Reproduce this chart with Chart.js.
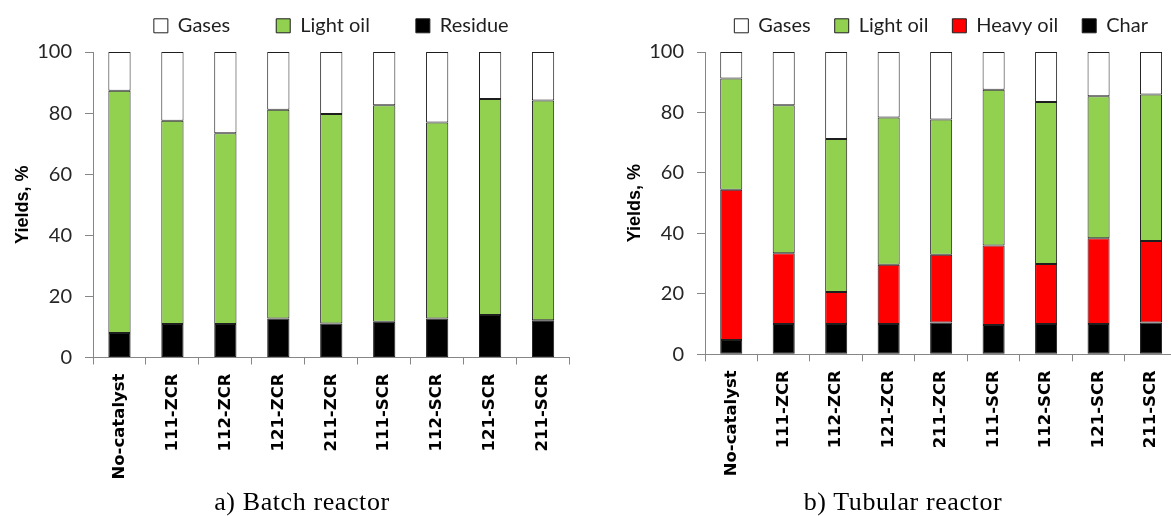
<!DOCTYPE html>
<html>
<head>
<meta charset="utf-8">
<title>Product yields</title>
<script src="https://cdn.jsdelivr.net/npm/chart.js@4.4.1/dist/chart.umd.min.js"></script>
<style>
  html, body { margin: 0; padding: 0; width: 1171px; height: 516px; overflow: hidden; background: #fff; }
  canvas { position: absolute; top: 0; }
  #batch { left: 0; }
  #tubular { left: 612px; }
  .caption {
    position: absolute; top: 487px; line-height: 30px;
    font-family: "Liberation Serif", "Times New Roman", serif; font-size: 26px;
    letter-spacing: 0.6px; color: #000; white-space: nowrap; transform: translateX(-50%);
  }
</style>
</head>
<body>
<canvas id="batch" width="572" height="516"></canvas>
<canvas id="tubular" width="568" height="516"></canvas>
<div class="caption" style="left:302px">a) Batch reactor</div>
<div class="caption" style="left:903px">b) Tubular reactor</div>
<script>
// Catalyst runs on the x axis
const categories = ['No-catalyst', '111-ZCR', '112-ZCR', '121-ZCR', '211-ZCR', '111-SCR', '112-SCR', '121-SCR', '211-SCR'];
const yTicks = [0, 20, 40, 60, 80, 100];

// Batch reactor product yields, % (stacked bottom to top)
const batchResidue  = [8.0, 11.0, 11.0, 12.8, 11.1, 11.7, 12.8, 13.9, 12.2];
const batchLightOil = [79.3, 66.5, 62.4, 68.3, 68.6, 70.9, 64.1, 70.7, 71.9];
const batchGases    = [12.7, 22.5, 26.6, 18.9, 20.3, 17.4, 23.1, 15.4, 15.9];

// Tubular reactor product yields, % (stacked bottom to top)
const tubularChar     = [4.7, 10.0, 10.0, 10.0, 10.5, 9.7, 10.0, 10.0, 10.5];
const tubularHeavyOil = [49.7, 23.4, 10.6, 19.6, 22.4, 26.3, 19.9, 28.4, 27.0];
const tubularLightOil = [36.8, 49.0, 50.6, 48.7, 44.8, 51.5, 53.6, 47.0, 48.4];
const tubularGases    = [8.8, 17.6, 28.8, 21.7, 22.3, 12.5, 16.5, 14.6, 14.1];

const COLORS = { gases: '#ffffff', lightOil: '#92d050', heavyOil: '#ff0000', solid: '#000000' };
const EDGE = '#1e1e1e';
const AXIS = '#868686';

// Keeps the legend row compact above the plot: fixed box height, items raised by `shift`
const legendPlacement = {
  id: 'legendPlacement',
  afterInit(chart, args, opts) {
    const legend = chart.legend;
    if (!legend) return;
    const fit = legend.fit;
    legend.fit = function () {
      const mw = this.maxWidth;
      this.maxWidth = 5000;
      fit.call(this);
      this.maxWidth = mw;
      this.width = mw;
      this.height = opts.height;
    };
    const draw = legend.draw;
    legend.draw = function () {
      const top = this.top;
      this.top = top + opts.shift;
      draw.call(this);
      this.top = top;
    };
  }
};

function series(label, data, color) {
  return {
    label, data,
    backgroundColor: color,
    borderColor: EDGE,
    borderWidth: 1,
    borderSkipped: false,
    barPercentage: 0.42,
    categoryPercentage: 1.0
  };
}

function buildChart(id, datasets, cfg) {
  return new Chart(document.getElementById(id), {
    type: 'bar',
    data: { labels: categories, datasets },
    plugins: [legendPlacement],
    options: {
      responsive: false,
      maintainAspectRatio: false,
      animation: false,
      layout: { padding: 0 },
      plugins: {
        legend: {
          display: true,
          position: 'top',
          fullSize: false,
          reverse: true,
          labels: {
            boxWidth: 14, boxHeight: 14,
            padding: cfg.legendPadding,
            color: '#1f1f1f',
            font: { family: 'Lato', size: 20 }
          }
        },
        tooltip: { enabled: false },
        legendPlacement: { height: 52, shift: cfg.legendShift }
      },
      scales: {
        x: {
          stacked: true,
          offset: true,
          grid: { display: true, drawOnChartArea: false, offset: true, tickLength: 7, color: AXIS },
          border: { color: AXIS, width: 1 },
          ticks: {
            autoSkip: false, maxRotation: 90, minRotation: 90, padding: 9,
            color: '#000',
            font: { family: 'DejaVu Sans', weight: 'bold', size: 16.5 }
          },
          afterFit(scale) { scale.height = cfg.xHeight; }
        },
        y: {
          stacked: true,
          min: 0, max: 100,
          grid: { drawOnChartArea: false, tickLength: 8, color: AXIS },
          border: { color: AXIS, width: 1 },
          ticks: { padding: 13, color: '#262626', font: { family: 'Lato', size: 20 } },
          afterBuildTicks(scale) { scale.ticks = yTicks.map(v => ({ value: v })); },
          title: {
            display: true, text: 'Yields, %', color: '#000',
            font: { family: 'Liberation Sans', weight: 'bold', size: 18 },
            padding: { top: 12, bottom: 0 }
          },
          afterFit(scale) { scale.width = 93; }
        }
      }
    }
  });
}

buildChart('batch', [
  series('Residue', batchResidue, COLORS.solid),
  series('Light oil', batchLightOil, COLORS.lightOil),
  series('Gases', batchGases, COLORS.gases)
], { legendPadding: 46, legendShift: -30.2, xHeight: 158.5 });

buildChart('tubular', [
  series('Char', tubularChar, COLORS.solid),
  series('Heavy oil', tubularHeavyOil, COLORS.heavyOil),
  series('Light oil', tubularLightOil, COLORS.lightOil),
  series('Gases', tubularGases, COLORS.gases)
], { legendPadding: 24, legendShift: -8.2, xHeight: 161.7 });
</script>
</body>
</html>
